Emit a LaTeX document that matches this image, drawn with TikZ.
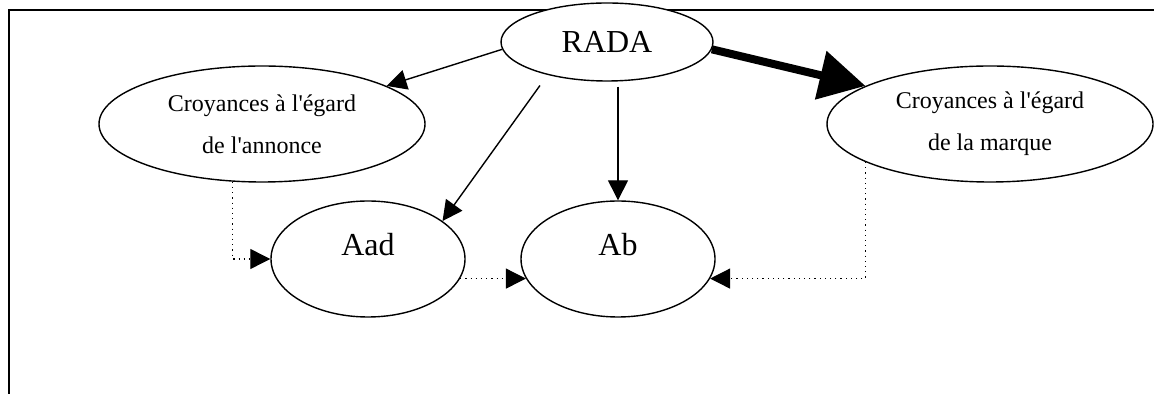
\documentclass[tikz,border=0pt]{standalone}
\usepackage{fontspec}
\setmainfont{Liberation Serif}
\usetikzlibrary{arrows.meta, shapes.geometric}
\tikzset{
  bubble/.style={draw, ellipse, fill=white, line width=0.7pt, inner sep=0pt, align=center},
  topbubble/.style={bubble, minimum width=106pt, minimum height=39pt, font=\fontsize{16}{19}\selectfont},
  beliefbubble/.style={bubble, minimum width=163pt, minimum height=58pt, font=\fontsize{12}{21}\selectfont},
  attbubble/.style={bubble, minimum width=97pt, minimum height=58pt, font=\fontsize{16}{19}\selectfont,
                    text height=11pt, text depth=14pt},
  link/.style={-{Triangle[length=10pt, width=10pt]}, line width=0.7pt},
  biglink/.style={-{Triangle[length=23pt, width=24pt]}, line width=4pt},
  dotlink/.style={-{Triangle[length=10pt, width=10pt]}, line width=0.6pt, dotted},
  frame/.style={line width=1pt},
}

\begin{document}
\begin{tikzpicture}[x=0.5pt, y=-0.5pt]
  \useasboundingbox (0,0) rectangle (1154,394);
  \draw[frame] (9,394) -- (9,10) -- (1154,10);

  \node[topbubble] (rada) at (607,42) {RADA};
  \node[beliefbubble] (beliefad) at (262,124) {Croyances à l\textquotesingle égard\\ de l\textquotesingle annonce};
  \node[beliefbubble] (beliefbr) at (990,124) {Croyances à l\textquotesingle égard\\ de la marque};
  \node[attbubble] (aad) at (368,259) {Aad};
  \node[attbubble] (ab) at (618,259) {Ab};

  \draw[link] (rada.184) -- (beliefad.17);
  \draw[link, shorten <=6.5pt] (rada.209) -- (aad.27);
  \draw[link, shorten <=2.5pt] (rada.south -| ab.north) -- (ab.north);
  \draw[biglink] (rada.356) -- (beliefbr.163);

  \draw[dotlink] (beliefad.243) |- (aad.west);
  \draw[dotlink] (aad.-12) -- (ab.192);
  \draw[dotlink] (beliefbr.197) |- (ab.-12);
\end{tikzpicture}
\end{document}
